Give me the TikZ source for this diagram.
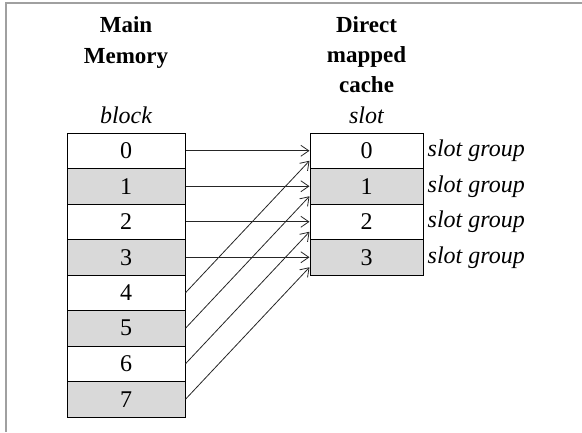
\documentclass[tikz,border=0pt]{standalone}
\usepackage{fontspec}
\usepackage{ifthen}
\setmainfont{Liberation Serif}
\usetikzlibrary{arrows.meta}

\definecolor{shade}{RGB}{217,217,217}
\definecolor{frame}{RGB}{160,160,160}

\begin{document}
\begin{tikzpicture}[x=1pt, y=1pt,
  every node/.style={font=\fontsize{24}{29}\selectfont, inner sep=0pt},
  cell/.style={draw, line width=1pt, minimum height=35.5pt},
  map/.style={-{Straight Barb[length=8pt, width=11pt]}, line width=0.8pt, draw=black!85}]
  \useasboundingbox (0,0) rectangle (582,-432);
  \draw [frame, line width=2pt] (5.5,-432) -- (5.5,-2.5) -- (582,-2.5);
  \pgfmathsetmacro{\h}{35.5}
  %
  % headings
  \node [anchor=base, font=\fontsize{23}{29}\selectfont\bfseries] (main) at (126,-32) {Main};
  \node [anchor=base, font=\fontsize{23}{29}\selectfont\bfseries] (memory) at (126,-63) {Memory};
  \node [anchor=base, font=\fontsize{24}{29}\selectfont\itshape] (block) at (126,-123) {block};
  \node [anchor=base, font=\fontsize{23}{29}\selectfont\bfseries] (direct) at (366.5,-32) {Direct};
  \node [anchor=base, font=\fontsize{23}{29}\selectfont\bfseries] (mapped) at (366.5,-62) {mapped};
  \node [anchor=base, font=\fontsize{23}{29}\selectfont\bfseries] (cache) at (366.5,-92) {cache};
  \node [anchor=base, font=\fontsize{24}{29}\selectfont\itshape] (slot) at (366.5,-123) {slot};
  %
  % main memory blocks
  \foreach \i in {0,...,7} {
    \pgfmathtruncatemacro{\odd}{mod(\i,2)}
    \ifthenelse{\odd=1}{
      \node [cell, minimum width=118pt, fill=shade] (m\i) at (126, -133-\h*\i-\h/2) {\i};
    }{
      \node [cell, minimum width=118pt, fill=white] (m\i) at (126, -133-\h*\i-\h/2) {\i};
    };
  }
  % cache slots
  \foreach \i in {0,...,3} {
    \pgfmathtruncatemacro{\odd}{mod(\i,2)}
    \ifthenelse{\odd=1}{
      \node [cell, minimum width=113pt, fill=shade] (c\i) at (366.5, -133-\h*\i-\h/2) {\i};
    }{
      \node [cell, minimum width=113pt, fill=white] (c\i) at (366.5, -133-\h*\i-\h/2) {\i};
    };
    \node [anchor=west, font=\fontsize{24}{29}\selectfont\itshape] (g\i) at ([xshift=4pt]c\i.east) {slot group};
  }
  %
  % block i goes to slot i mod 4
  \foreach \i in {0,...,3} {
    \pgfmathtruncatemacro{\j}{\i + 4}
    \draw [map] (m\i.east) -- (c\i.west);
    \draw [map] (m\j.east) -- ([yshift=-10pt]c\i.west);
  }
\end{tikzpicture}
\end{document}
